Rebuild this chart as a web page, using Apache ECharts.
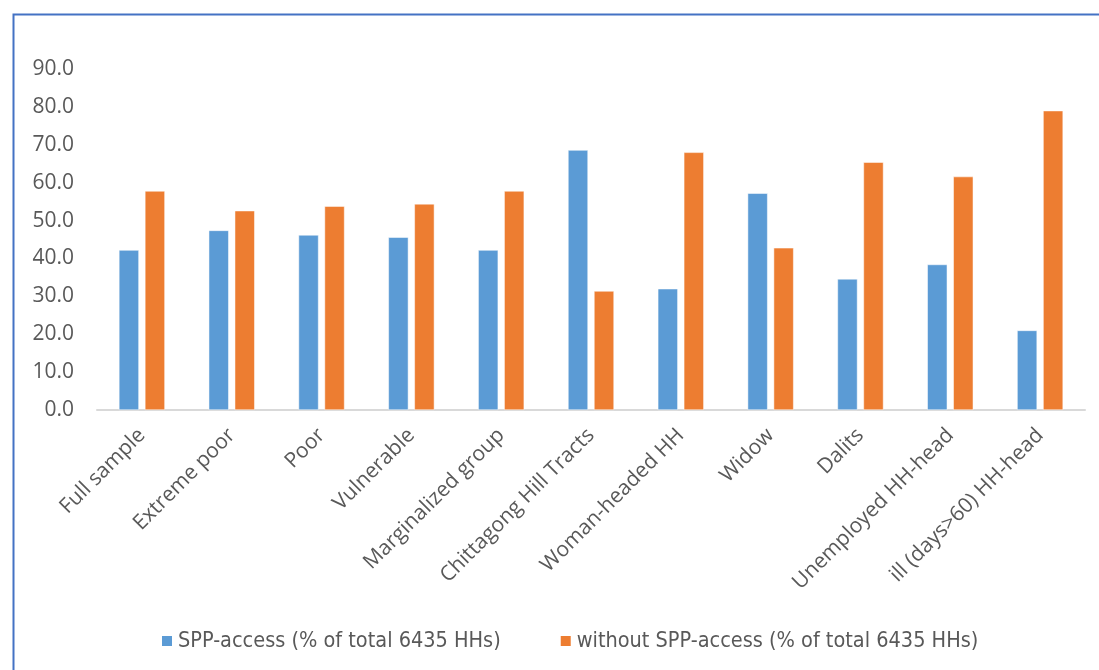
<!DOCTYPE html>
<html>
<head>
<meta charset="utf-8">
<title>SPP access by household group</title>
<script src="https://cdn.jsdelivr.net/npm/echarts@6/dist/echarts.min.js"></script>
<style>
  html, body { margin: 0; padding: 0; background: #fff; }
  #chart { width: 1099px; height: 670px; }
</style>
</head>
<body>
<div id="chart"></div>
<script>
// Household groups shown along the x axis
const categories = [
  'Full sample', 'Extreme poor', 'Poor', 'Vulnerable', 'Marginalized group',
  'Chittagong Hill Tracts', 'Woman-headed HH', 'Widow', 'Dalits',
  'Unemployed HH-head', 'ill (days>60) HH-head'
];

// Share of households with access to social protection programmes (%)
const sppAccess = [42.2, 47.4, 46.2, 45.6, 42.2, 68.6, 32.0, 57.2, 34.6, 38.4, 21.0];

// Share of households without access (%)
const withoutSppAccess = [57.8, 52.6, 53.8, 54.4, 57.8, 31.4, 68.0, 42.8, 65.4, 61.6, 79.0];

const seriesNames = [
  'SPP-access (% of total 6435 HHs)',
  'without SPP-access (% of total 6435 HHs)'
];

const FONT = '"Open Sans", "Liberation Sans", sans-serif';
const TEXT = '#595959';

const chart = echarts.init(document.getElementById('chart'), null, { renderer: 'canvas' });

chart.setOption({
  animation: false,
  backgroundColor: '#ffffff',
  graphic: [{
    type: 'rect',
    left: 11, top: 12,
    shape: { width: 1120, height: 700 },
    style: { fill: 'none', stroke: '#4472C4', lineWidth: 2 },
    silent: true
  }],
  legend: {
    left: 155,
    top: 625,
    itemWidth: 12,
    itemHeight: 12,
    itemGap: 58,
    icon: 'rect',
    textStyle: { fontFamily: '"DejaVu Sans Condensed", ' + FONT, fontSize: 21.5, color: TEXT },
    data: seriesNames
  },
  grid: { left: 97, right: 14, top: 69, bottom: 260, containLabel: false },
  xAxis: {
    type: 'category',
    data: categories,
    axisLine: { show: true, lineStyle: { color: '#D9D9D9', width: 2 } },
    axisTick: { show: false },
    axisLabel: {
      rotate: 45,
      interval: 0,
      margin: 22,
      fontFamily: FONT,
      fontSize: 21,
      color: TEXT
    }
  },
  yAxis: {
    type: 'value',
    min: 0,
    max: 90,
    interval: 10,
    splitLine: { show: false },
    axisLine: { show: false },
    axisTick: { show: false },
    axisLabel: {
      margin: 23,
      fontFamily: FONT,
      fontSize: 21,
      color: TEXT,
      formatter: v => v.toFixed(1)
    }
  },
  series: [
    {
      name: seriesNames[0],
      type: 'bar',
      data: sppAccess,
      barWidth: 20,
      barGap: '30%',
      itemStyle: { color: '#5B9BD5', borderColor: '#ffffff', borderWidth: 0.5 }
    },
    {
      name: seriesNames[1],
      type: 'bar',
      data: withoutSppAccess,
      barWidth: 20,
      barGap: '30%',
      itemStyle: { color: '#ED7D31', borderColor: '#ffffff', borderWidth: 0.5 }
    }
  ]
});
</script>
</body>
</html>
